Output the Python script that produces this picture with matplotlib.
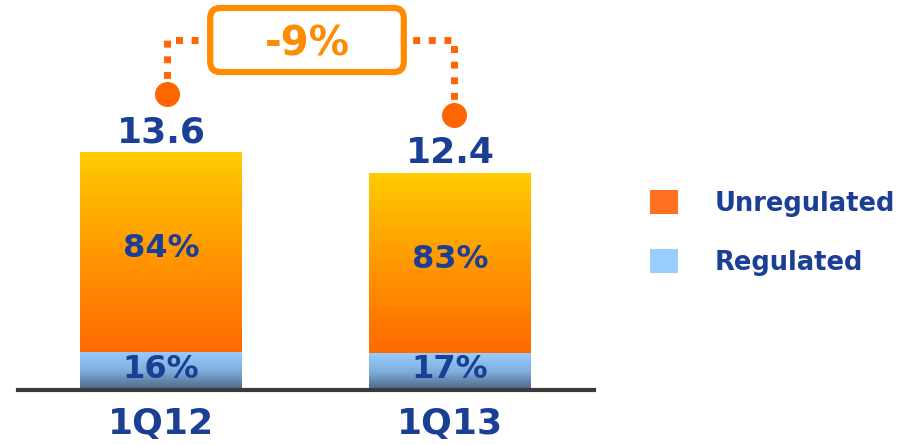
import numpy as np
import matplotlib
matplotlib.use('Agg')
import matplotlib.pyplot as plt
from matplotlib.colors import LinearSegmentedColormap
from matplotlib.patches import FancyBboxPatch, Patch

# ---- data ----
categories = ['1Q12', '1Q13']
totals = [13.6, 12.4]
regulated_pct = [16, 17]
unregulated_pct = [84, 83]
change_label = '-9%'
series_names = ['Unregulated', 'Regulated']

navy = '#1B3F94'
orange_dot = '#FF6600'
box_orange = '#FF8C00'

reg = [t * p / 100 for t, p in zip(totals, regulated_pct)]
unreg = [t - r for t, r in zip(totals, reg)]

fig = plt.figure(figsize=(9.12, 4.45), dpi=100)
ax = fig.add_axes([18 / 912, 55 / 445, 576 / 912, 390 / 445])

x = np.arange(len(categories))
w = 0.56
bars_reg = ax.bar(x, reg, w, color='none', edgecolor='none')
bars_un = ax.bar(x, unreg, w, bottom=reg, color='none', edgecolor='none')

grad = np.linspace(0, 1, 256).reshape(-1, 1)
orange_cmap = LinearSegmentedColormap.from_list('o', ['#FF6A00', '#FF9800', '#FFCC00'])
blue_cmap = LinearSegmentedColormap.from_list('b', ['#4A6582', '#7FAEDC', '#99CCFF'])
for bars, cmap in [(bars_reg, blue_cmap), (bars_un, orange_cmap)]:
    for bar in bars:
        x0, y0 = bar.get_xy()
        bw, bh = bar.get_width(), bar.get_height()
        im = ax.imshow(grad, extent=(x0, x0 + bw, y0, y0 + bh), origin='lower',
                       cmap=cmap, aspect='auto', zorder=2, interpolation='bilinear')
        im.set_clip_path(bar)

ax.set_xlim(-0.495, 1.498)
ax.set_ylim(0, 22.286)
ax.axhline(0, color='#3A3A3A', lw=3, zorder=3, clip_on=False)
for s in ax.spines.values():
    s.set_visible(False)
ax.set_yticks([])
ax.set_xticks(x, categories)
ax.tick_params(axis='x', length=0, pad=12)
for lbl in ax.get_xticklabels():
    lbl.set_fontsize(26)
    lbl.set_fontweight('bold')
    lbl.set_color(navy)

# labels
for xi, t, r, u, rp, up in zip(x, totals, reg, unreg, regulated_pct, unregulated_pct):
    ax.text(xi, t + 0.55, f'{t}', ha='center', va='baseline', fontsize=26,
            fontweight='bold', color=navy, zorder=5)
    ax.text(xi, r + u / 2 + 0.2, f'{up}%', ha='center', va='center', fontsize=23,
            fontweight='bold', color=navy, zorder=5)
    ax.text(xi, r / 2 + 0.1, f'{rp}%', ha='center', va='center', fontsize=23,
            fontweight='bold', color=navy, zorder=5)

# bracket
y_br = 20.0
circ_off = 3.3
box_x0, box_x1 = 0.17, 0.84
cx = [x[0] + 0.02, x[1] + 0.015]
ax.plot([cx[0], cx[0], box_x0], [totals[0] + circ_off, y_br, y_br], color=orange_dot,
        lw=5, dashes=(1, 1.25), dash_capstyle='butt', clip_on=False, zorder=4)
ax.plot([cx[1], cx[1], box_x1], [totals[1] + circ_off, y_br, y_br], color=orange_dot,
        lw=5, dashes=(1, 1.25), dash_capstyle='butt', clip_on=False, zorder=4)
ax.plot(cx, [t + circ_off for t in totals], 'o', color=orange_dot, ms=17, clip_on=False, zorder=5)

ma = 289 / 17.5
box = FancyBboxPatch((box_x0, y_br - 1.83), box_x1 - box_x0, 3.66,
                     boxstyle='round,pad=0,rounding_size=0.035', mutation_aspect=ma,
                     fc='white', ec=box_orange, lw=4.5, clip_on=False, zorder=6)
ax.add_patch(box)
ax.text((box_x0 + box_x1) / 2, y_br, change_label, ha='center', va='center_baseline',
        fontsize=29, fontweight='bold', color=box_orange, zorder=7)

# legend
handles = [Patch(fc='#FF7020', ec='none'), Patch(fc='#99CCFF', ec='none')]
ax.legend(handles, series_names, loc='upper left', bbox_to_anchor=(650 / 912, 1 - 190 / 445),
          bbox_transform=fig.transFigure, frameon=False, handlelength=1.08, handleheight=1.08,
          handletextpad=1.45, labelspacing=1.25, borderpad=0, borderaxespad=0,
          prop={'size': 18.5, 'weight': 'bold'}, labelcolor=navy)

fig.savefig('out.png', dpi=100)
